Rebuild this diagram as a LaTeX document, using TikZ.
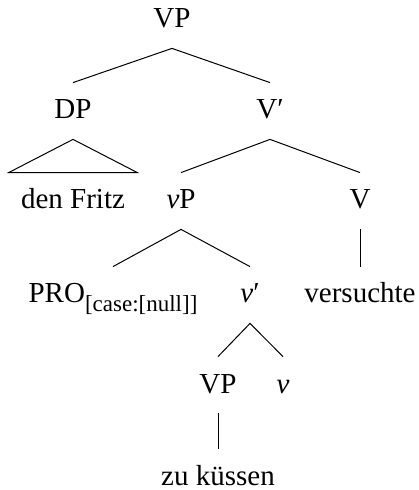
\documentclass[tikz,border=0pt]{standalone}
\usepackage{fontspec}
\setmainfont{Liberation Serif}
\usetikzlibrary{positioning}

\begin{document}
\begin{tikzpicture}[x=0.5pt,y=-0.5pt]
    \tikzset{cat/.style={anchor=base,font=\fontsize{14.5}{17}\selectfont,text height=12pt,text depth=4pt,inner ysep=6pt,inner xsep=6pt},
      branch/.style={line width=0.5pt}}
    \useasboundingbox (0,0) rectangle (418,490);
    % labels of the tree
    \node[cat] (vp) at (172,28) {VP};
    \node[cat] (dp) at (73,119) {DP};
    \node[cat] (vbar) at (270,119) {V′};
    \node[cat] (fritz) at (73,209) {den Fritz};
    \node[cat] (littlevp) at (181,209) {\textit{v}P};
    \node[cat] (verb) at (360,209) {V};
    \node[cat] (pro) at (113,303) {PRO\raisebox{-4.5pt}{\fontsize{11.5}{13}\selectfont[case:[null]]}};
    \node[cat] (littlevbar) at (250,303) {\textit{v}′};
    \node[cat] (versuchte) at (360,303) {versuchte};
    \node[cat] (lowvp) at (218,393) {VP};
    \node[cat] (littlev) at (283,393) {\textit{v}};
    \node[cat] (kuessen) at (218,485) {zu küssen};
    % branches
    \draw[branch] (dp.north) -- (vp.south) -- (vbar.north);
    \draw[branch] (dp.south) -- (fritz.north west) -- (fritz.north east) -- cycle;
    \draw[branch] (littlevp.north) -- (vbar.south) -- (verb.north);
    \draw[branch] (verb.south) -- (versuchte.north);
    \draw[branch] (pro.north) -- (littlevp.south) -- (littlevbar.north);
    \draw[branch] (lowvp.north) -- (littlevbar.south) -- (littlev.north);
    \draw[branch] (lowvp.south) -- (kuessen.north);
  \end{tikzpicture}
\end{document}
